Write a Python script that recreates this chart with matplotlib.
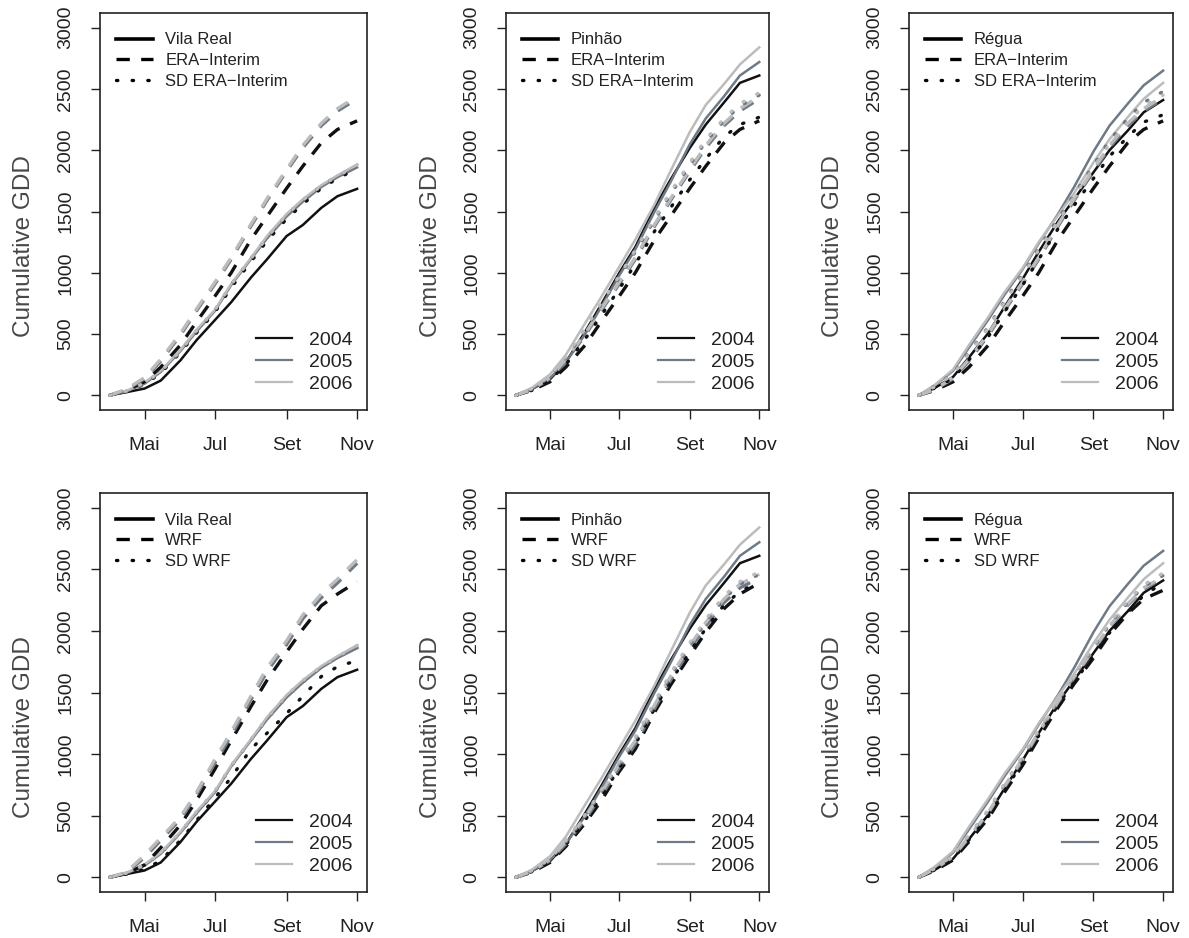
import matplotlib
matplotlib.use("Agg")
import matplotlib.pyplot as plt
from matplotlib.lines import Line2D

plt.rcParams["font.family"] = ["Liberation Sans", "DejaVu Sans"]

# Day of year of each sample (1 Apr ... 1 Nov, roughly every two weeks)
days = [91, 105, 121, 135, 152, 166, 182, 196, 213, 227, 244, 258, 274, 288, 305]
month_ticks = [121, 182, 244, 305]
month_labels = ["Mai", "Jul", "Set", "Nov"]
years = ["2004", "2005", "2006"]
gdd_ticks = [0, 500, 1000, 1500, 2000, 2500, 3000]

# Observed cumulative GDD per station
vila_real_2004 = [0, 25, 55, 120, 285, 450, 615, 760, 960, 1110, 1300, 1390, 1530, 1625, 1685]
vila_real_2005 = [0, 30, 95, 190, 360, 520, 690, 900, 1110, 1280, 1460, 1580, 1700, 1780, 1860]
vila_real_2006 = [0, 35, 105, 200, 370, 535, 700, 910, 1120, 1300, 1480, 1600, 1715, 1795, 1885]
pinhao_2004 = [0, 50, 130, 270, 520, 740, 1000, 1210, 1530, 1760, 2020, 2210, 2390, 2550, 2610]
pinhao_2005 = [0, 50, 140, 270, 500, 720, 980, 1190, 1500, 1740, 2050, 2260, 2440, 2610, 2720]
pinhao_2006 = [0, 60, 170, 330, 590, 800, 1050, 1270, 1560, 1830, 2150, 2370, 2540, 2700, 2840]
regua_2004 = [0, 60, 150, 310, 510, 720, 950, 1170, 1420, 1600, 1820, 2000, 2160, 2310, 2410]
regua_2005 = [0, 80, 200, 390, 620, 820, 1030, 1240, 1480, 1700, 1990, 2200, 2380, 2530, 2650]
regua_2006 = [0, 85, 210, 410, 640, 840, 1040, 1250, 1470, 1650, 1900, 2090, 2270, 2420, 2550]

# ERA-Interim (same grid cell for the three stations)
era_2004 = [0, 40, 110, 230, 410, 600, 810, 1000, 1270, 1460, 1690, 1870, 2060, 2170, 2240]
era_2005 = [0, 45, 135, 280, 490, 690, 910, 1110, 1380, 1590, 1830, 2020, 2200, 2320, 2420]
era_2006 = [0, 48, 145, 295, 505, 705, 925, 1125, 1395, 1605, 1845, 2040, 2220, 2340, 2440]

# Statistically downscaled ERA-Interim
sd_era_vila_real_2004 = [0, 30, 90, 180, 350, 510, 680, 880, 1090, 1260, 1440, 1560, 1690, 1770, 1850]
sd_era_vila_real_2005 = [0, 30, 95, 190, 360, 525, 695, 905, 1115, 1290, 1470, 1590, 1710, 1790, 1870]
sd_era_vila_real_2006 = [0, 35, 100, 195, 365, 530, 700, 905, 1115, 1290, 1475, 1595, 1710, 1790, 1880]
sd_era_pinhao_2004 = [0, 40, 125, 250, 460, 650, 870, 1070, 1340, 1530, 1760, 1930, 2110, 2210, 2270]
sd_era_pinhao_2005 = [0, 50, 150, 300, 530, 740, 960, 1170, 1430, 1640, 1880, 2070, 2240, 2360, 2450]
sd_era_pinhao_2006 = [0, 55, 160, 315, 545, 755, 975, 1185, 1450, 1660, 1900, 2090, 2260, 2380, 2470]
sd_era_regua_2004 = [0, 60, 140, 290, 480, 680, 900, 1110, 1360, 1550, 1770, 1950, 2110, 2230, 2290]
sd_era_regua_2005 = [0, 75, 180, 350, 560, 770, 990, 1200, 1440, 1640, 1880, 2080, 2260, 2390, 2480]
sd_era_regua_2006 = [0, 70, 170, 340, 550, 760, 975, 1185, 1420, 1620, 1860, 2050, 2230, 2360, 2450]

# WRF
wrf_vila_real_2004 = [0, 30, 100, 240, 424, 625, 880, 1110, 1385, 1600, 1830, 2015, 2205, 2300, 2400]
wrf_vila_real_2005 = [0, 35, 160, 300, 470, 670, 930, 1150, 1440, 1670, 1890, 2100, 2270, 2390, 2550]
wrf_vila_real_2006 = [0, 40, 180, 320, 490, 690, 960, 1180, 1470, 1700, 1920, 2130, 2300, 2420, 2580]
wrf_pinhao_2004 = [0, 40, 120, 250, 440, 620, 860, 1040, 1340, 1560, 1800, 1990, 2180, 2300, 2390]
wrf_pinhao_2005 = [0, 45, 135, 270, 470, 660, 890, 1080, 1370, 1600, 1850, 2040, 2230, 2350, 2430]
wrf_pinhao_2006 = [0, 50, 145, 290, 490, 685, 920, 1110, 1400, 1630, 1880, 2070, 2260, 2380, 2460]
wrf_regua_2004 = [0, 55, 140, 290, 480, 690, 910, 1130, 1380, 1570, 1780, 1970, 2140, 2260, 2330]
wrf_regua_2005 = [0, 65, 165, 320, 520, 730, 950, 1170, 1420, 1620, 1840, 2030, 2210, 2340, 2430]
wrf_regua_2006 = [0, 70, 170, 330, 530, 740, 965, 1180, 1430, 1630, 1850, 2040, 2220, 2350, 2440]

# Statistically downscaled WRF
sd_wrf_vila_real_2004 = [0, 25, 65, 135, 300, 460, 645, 810, 1040, 1170, 1330, 1470, 1630, 1710, 1760]
sd_wrf_vila_real_2005 = [0, 32, 97, 192, 362, 522, 692, 902, 1112, 1285, 1465, 1585, 1705, 1785, 1865]
sd_wrf_vila_real_2006 = [0, 34, 102, 198, 368, 533, 703, 908, 1118, 1295, 1478, 1598, 1712, 1792, 1882]
sd_wrf_pinhao_2004 = [0, 45, 130, 265, 465, 650, 890, 1080, 1370, 1590, 1830, 2020, 2210, 2320, 2400]
sd_wrf_pinhao_2005 = [0, 50, 145, 285, 495, 690, 920, 1115, 1400, 1630, 1880, 2070, 2260, 2380, 2460]
sd_wrf_pinhao_2006 = [0, 55, 150, 300, 510, 705, 940, 1135, 1425, 1655, 1905, 2095, 2285, 2400, 2480]
sd_wrf_regua_2004 = [0, 60, 150, 305, 495, 705, 930, 1150, 1400, 1585, 1800, 1985, 2150, 2290, 2390]
sd_wrf_regua_2005 = [0, 70, 175, 335, 540, 750, 970, 1185, 1430, 1630, 1860, 2050, 2230, 2360, 2450]
sd_wrf_regua_2006 = [0, 72, 180, 345, 550, 760, 985, 1200, 1445, 1645, 1875, 2065, 2245, 2375, 2470]

year_colors = ["#111111", "#6e7a86", "#bcbcbc"]

dash_style = (0, (4.0, 3.4))
dot_style = (0, (0.4, 4.3))

panels = [
    ("Vila Real", "ERA\u2212Interim",
     [vila_real_2004, vila_real_2005, vila_real_2006],
     [era_2004, era_2005, era_2006],
     [sd_era_vila_real_2004, sd_era_vila_real_2005, sd_era_vila_real_2006]),
    ("Pinhão", "ERA\u2212Interim",
     [pinhao_2004, pinhao_2005, pinhao_2006],
     [era_2004, era_2005, era_2006],
     [sd_era_pinhao_2004, sd_era_pinhao_2005, sd_era_pinhao_2006]),
    ("Régua", "ERA\u2212Interim",
     [regua_2004, regua_2005, regua_2006],
     [era_2004, era_2005, era_2006],
     [sd_era_regua_2004, sd_era_regua_2005, sd_era_regua_2006]),
    ("Vila Real", "WRF",
     [vila_real_2004, vila_real_2005, vila_real_2006],
     [wrf_vila_real_2004, wrf_vila_real_2005, wrf_vila_real_2006],
     [sd_wrf_vila_real_2004, sd_wrf_vila_real_2005, sd_wrf_vila_real_2006]),
    ("Pinhão", "WRF",
     [pinhao_2004, pinhao_2005, pinhao_2006],
     [wrf_pinhao_2004, wrf_pinhao_2005, wrf_pinhao_2006],
     [sd_wrf_pinhao_2004, sd_wrf_pinhao_2005, sd_wrf_pinhao_2006]),
    ("Régua", "WRF",
     [regua_2004, regua_2005, regua_2006],
     [wrf_regua_2004, wrf_regua_2005, wrf_regua_2006],
     [sd_wrf_regua_2004, sd_wrf_regua_2005, sd_wrf_regua_2006]),
]

fig = plt.figure(figsize=(11.89, 9.38), dpi=100)

col_rects = [(0.0841, 0.2246), (0.4256, 0.2212), (0.7645, 0.2220)]
row_rects = [(0.5629, 0.4232), (0.0490, 0.4254)]

for k, (station, model, obs, mod, sd) in enumerate(panels):
    r, c = divmod(k, 3)
    left, width = col_rects[c]
    bottom, height = row_rects[r]
    ax = fig.add_axes([left, bottom, width, height])

    for series, color in zip(obs, year_colors):
        ax.plot(days, series, color=color, lw=1.8, solid_joinstyle="round")
    for series, color in zip(mod, year_colors):
        ax.plot(days, series, color=color, lw=2.4, linestyle=dash_style,
                dash_capstyle="butt")
    for series, color in zip(sd, year_colors):
        ax.plot(days, series, color=color, lw=2.4, linestyle=dot_style,
                dash_capstyle="round")

    ax.set_xlim(82.4, 313.6)
    ax.set_ylim(-120, 3120)
    ax.set_xticks(month_ticks)
    ax.set_xticklabels(month_labels)
    ax.set_yticks(gdd_ticks)
    ax.set_yticklabels([str(v) for v in gdd_ticks])
    ax.tick_params(axis="both", direction="out", length=6.5, width=1.0,
                   labelsize=14, color="#222222", labelcolor="#222222")
    ax.tick_params(axis="x", pad=13)
    ax.tick_params(axis="y", pad=12, labelrotation=90)
    for lab in ax.get_yticklabels():
        lab.set_verticalalignment("center")
    for sp in ax.spines.values():
        sp.set_linewidth(1.2)
        sp.set_color("#222222")

    ax.set_ylabel("Cumulative GDD", fontsize=17.5, color="#474747")
    ax.yaxis.set_label_coords(-0.245, 0.413)

    style_handles = [
        Line2D([], [], color="black", lw=2.6),
        Line2D([], [], color="black", lw=2.4, linestyle=dash_style),
        Line2D([], [], color="black", lw=2.4, linestyle=dot_style,
               dash_capstyle="round"),
    ]
    leg1 = ax.legend(style_handles, [station, model, "SD " + model],
                     loc="upper left", bbox_to_anchor=(0.06, 0.951),
                     frameon=False, fontsize=12, handlelength=2.2,
                     handletextpad=0.75, labelspacing=0.34,
                     borderpad=0, borderaxespad=0)
    for t in leg1.get_texts():
        t.set_color("#222222")
    ax.add_artist(leg1)

    year_handles = [Line2D([], [], color=col, lw=1.6) for col in year_colors]
    leg2 = ax.legend(year_handles, years, loc="lower right",
                     bbox_to_anchor=(0.945, 0.043), frameon=False,
                     fontsize=14, handlelength=1.85, handletextpad=0.85,
                     labelspacing=0.23, borderpad=0, borderaxespad=0)
    for t in leg2.get_texts():
        t.set_color("#222222")

fig.savefig("out.png", dpi=100)
